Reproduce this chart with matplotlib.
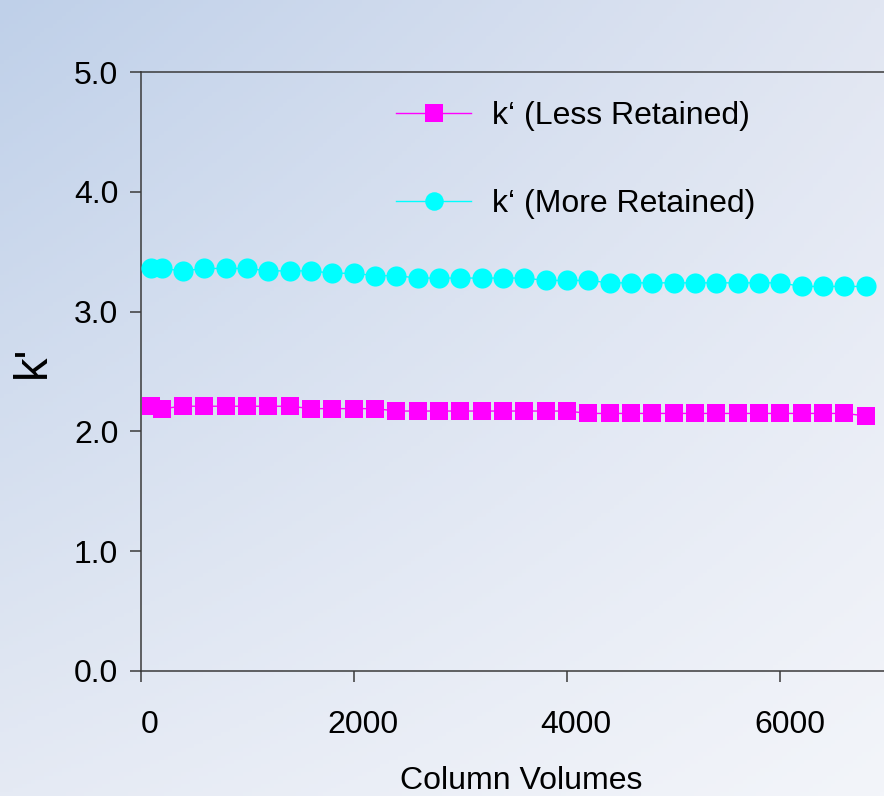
import matplotlib
matplotlib.use("Agg")
import matplotlib.pyplot as plt
import matplotlib.transforms as mtransforms
import numpy as np
from matplotlib.colors import to_rgb

# --- data ---
column_volumes = [100, 200, 400, 600, 800, 1000, 1200, 1400, 1600, 1800,
                  2000, 2200, 2400, 2600, 2800, 3000, 3200, 3400, 3600, 3800,
                  4000, 4200, 4400, 4600, 4800, 5000, 5200, 5400, 5600, 5800,
                  6000, 6200, 6400, 6600, 6800]
k_less = [2.21, 2.19, 2.21, 2.21, 2.21, 2.21, 2.21, 2.21, 2.19, 2.19,
          2.19, 2.19, 2.17, 2.17, 2.17, 2.17, 2.17, 2.17, 2.17, 2.17,
          2.17, 2.15, 2.15, 2.15, 2.15, 2.15, 2.15, 2.15, 2.15, 2.15,
          2.15, 2.15, 2.15, 2.15, 2.13]
k_more = [3.36, 3.36, 3.34, 3.36, 3.36, 3.36, 3.34, 3.34, 3.34, 3.32,
          3.32, 3.30, 3.30, 3.28, 3.28, 3.28, 3.28, 3.28, 3.28, 3.26,
          3.26, 3.26, 3.24, 3.24, 3.24, 3.24, 3.24, 3.24, 3.24, 3.24,
          3.24, 3.21, 3.21, 3.21, 3.21]
label_less = "k\u2018 (Less Retained)"
label_more = "k\u2018 (More Retained)"
x_ticks = [0, 2000, 4000, 6000]
y_ticks = [0.0, 1.0, 2.0, 3.0, 4.0, 5.0]

plt.rcParams['font.family'] = ['Liberation Sans', 'DejaVu Sans']

W, H = 884, 796
fig = plt.figure(figsize=(W / 100, H / 100), dpi=100)

# --- gradient slide background ---
bg = fig.add_axes([0, 0, 1, 1], zorder=-10)
tl, tr = np.array(to_rgb('#bfd0e9')), np.array(to_rgb('#e1e6f2'))
bl, br = np.array(to_rgb('#e5eaf4')), np.array(to_rgb('#f3f5fa'))
u = np.linspace(0, 1, 200)[None, :, None]
v = np.linspace(0, 1, 200)[:, None, None]
img = (1 - v) * ((1 - u) * tl + u * tr) + v * ((1 - u) * bl + u * br)
bg.imshow(img, aspect='auto', extent=[0, 1, 0, 1])
bg.axis('off')

# --- main axes (right part runs off the slide) ---
px_per_2000 = 213.3
left, right_px = 140.5, 140.5 + 4 * px_per_2000
ax = fig.add_axes([left / W, (H - 671) / H, (right_px - left) / W, 599 / H])
ax.patch.set_alpha(0)

ax.plot(column_volumes, k_less, color='#ff00ff', lw=1.0, marker='s',
        markersize=13.5, markeredgewidth=0, label=label_less, zorder=3)
ax.plot(column_volumes, k_more, color='#00ffff', lw=1.0, marker='o',
        markersize=14.5, markeredgewidth=0, label=label_more, zorder=3)

ax.set_xlim(0, 8000)
ax.set_ylim(0, 5)
ax.set_xticks(x_ticks)
ax.set_yticks(y_ticks)
ax.set_yticklabels([f"{t:.1f}" for t in y_ticks])

for s in ['left', 'bottom', 'top', 'right']:
    ax.spines[s].set_color('#3a3a3a')
    ax.spines[s].set_linewidth(1.1)
ax.tick_params(axis='both', direction='out', length=8, width=1.1,
               color='#3a3a3a', labelsize=23, labelcolor='black')
ax.tick_params(axis='x', pad=20)
ax.tick_params(axis='y', pad=8)

# tick labels in the original sit a little right of their ticks
shift = mtransforms.ScaledTranslation(9 / 100, 0, fig.dpi_scale_trans)
for lab in ax.get_xticklabels():
    lab.set_transform(lab.get_transform() + shift)

ax.set_xlabel("Column Volumes", fontsize=23, va='top')
ax.xaxis.set_label_coords((521 - left) / (right_px - left), (671 - 766) / 599)
ax.set_ylabel("k'", fontsize=34, va='center')
ax.yaxis.set_label_coords((33 - left) / (right_px - left), (671 - 362) / 599)

leg = ax.legend(loc='center left', bbox_to_anchor=(396 / W, 1 - 160 / H),
                bbox_transform=fig.transFigure, frameon=False, fontsize=23,
                handlelength=2.35, handletextpad=0.65, labelspacing=1.8,
                borderpad=0, borderaxespad=0, markerscale=0.92)

fig.savefig('out.png', dpi=100)
